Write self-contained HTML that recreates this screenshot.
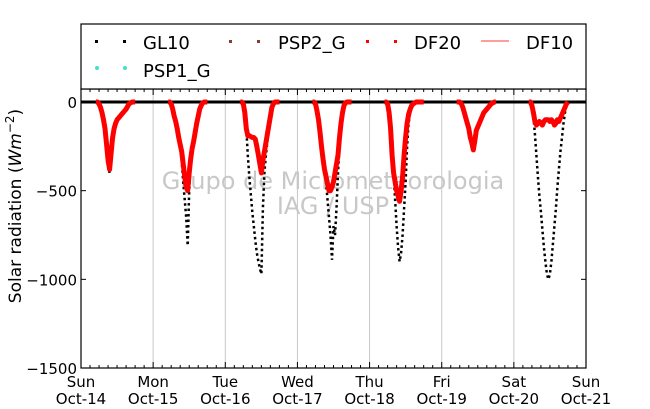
<!DOCTYPE html>
<html><head><meta charset="utf-8"><style>
body{margin:0;background:#fff;}
svg{display:block;font-family:"DejaVu Sans","Liberation Sans",sans-serif;}
</style></head><body>
<svg id="chart" width="650" height="409" viewBox="0 0 650 409">
<g id="grid"></g>
<g id="wm">
<text x="333" y="189" text-anchor="middle" font-size="24" fill="#c8c8c8">Grupo de Micrometeorologia</text>
<text x="333" y="214" text-anchor="middle" font-size="24" fill="#c8c8c8">IAG / USP</text>
</g>
<g id="series"></g>
<g id="axes"></g>
<g id="legend">
<rect x="81" y="24" width="505" height="65" fill="#fff" stroke="#000" stroke-width="1.2"/>
<g><rect x="95" y="40" width="3" height="3" fill="#000"/><rect x="123" y="40" width="3" height="3" fill="#000"/><text x="143" y="49" font-size="18">GL10</text></g>
<g><rect x="229" y="40" width="3" height="3" fill="#8b3a3a"/><rect x="257" y="40" width="3" height="3" fill="#8b3a3a"/><text x="278" y="49" font-size="18">PSP2_G</text></g>
<g><rect x="366" y="40" width="3" height="3" fill="#f00"/><rect x="394" y="40" width="3" height="3" fill="#f00"/><text x="414" y="49" font-size="18">DF20</text></g>
<g><line x1="481" y1="41" x2="509" y2="41" stroke="#ff6060" stroke-width="1.2"/><text x="526" y="49" font-size="18">DF10</text></g>
<g><circle cx="97" cy="68" r="2" fill="#40e0d0"/><circle cx="125" cy="68" r="2" fill="#40e0d0"/><text x="143" y="77" font-size="18">PSP1_G</text></g>
</g>
<text transform="translate(21,206) rotate(-90)" text-anchor="middle" font-size="17">Solar radiation (<tspan font-style="italic">Wm</tspan><tspan font-size="12" dy="-7">−2</tspan><tspan dy="7">)</tspan></text>
</svg>
<script>
const dayNames = ["Sun","Mon","Tue","Wed","Thu","Fri","Sat","Sun"];
const dayDates = ["Oct-14","Oct-15","Oct-16","Oct-17","Oct-18","Oct-19","Oct-20","Oct-21"];
const yTicks = [0,-500,-1000,-1500];
const yTickLabels = ["0","−500","−1000","−1500"];
const hours = [5,5.5,6,6.5,7,7.5,8,8.5,9,9.5,10,10.5,11,11.5,12,12.5,13,13.5,14,14.5,15,15.5,16,16.5,17,17.5,18];
const gl10 = [
[0,0,-10,-30,-60,-100,-150,-250,-350,-400,-300,-200,-150,-120,-100,-90,-80,-70,-60,-50,-40,-25,-10,-5,0,0,0],
[0,0,-10,-40,-80,-110,-150,-200,-260,-330,-450,-550,-650,-810,-500,-350,-280,-230,-170,-120,-80,-40,-20,-5,0,0,0],
[0,0,-10,-60,-150,-300,-420,-520,-620,-700,-780,-850,-900,-940,-970,-600,-400,-300,-220,-150,-80,-30,-10,0,0,0,0],
[0,0,-10,-50,-100,-170,-250,-320,-400,-450,-550,-650,-750,-890,-700,-750,-600,-400,-250,-150,-80,-30,-10,0,0,0,0],
[0,0,-10,-60,-150,-300,-400,-550,-700,-820,-900,-850,-750,-600,-450,-250,-120,-60,-30,-15,-5,0,0,0,0,0,0],
[0,0,0,-10,-30,-60,-90,-120,-150,-200,-230,-270,-220,-160,-140,-120,-100,-80,-60,-50,-40,-30,-20,-10,-5,0,0],
[0,0,-20,-80,-180,-300,-420,-530,-620,-720,-820,-900,-970,-1000,-970,-900,-800,-700,-600,-480,-380,-280,-200,-120,-60,-20,0]
];
const df20 = [
[0,0,-10,-30,-60,-100,-150,-240,-330,-380,-290,-200,-150,-120,-100,-90,-80,-70,-60,-50,-40,-25,-10,-5,0,0,0],
[0,0,-10,-40,-80,-110,-150,-200,-240,-280,-350,-420,-480,-500,-400,-320,-260,-220,-170,-120,-80,-40,-20,-5,0,0,0],
[0,0,-10,-60,-150,-190,-190,-195,-200,-200,-210,-250,-300,-350,-400,-330,-280,-230,-180,-130,-80,-30,-10,0,0,0,0],
[0,0,-10,-50,-100,-170,-250,-320,-380,-420,-460,-500,-500,-480,-450,-400,-350,-300,-200,-120,-60,-20,-5,0,0,0,0],
[0,0,-10,-60,-150,-300,-400,-450,-500,-530,-560,-500,-420,-300,-200,-120,-70,-40,-20,-10,-5,0,0,0,0,0,0],
[0,0,0,-10,-30,-60,-90,-120,-150,-200,-230,-270,-220,-160,-140,-120,-100,-80,-60,-50,-40,-30,-20,-10,-5,0,0],
[0,0,-20,-60,-110,-130,-120,-110,-120,-130,-110,-100,-100,-100,-110,-100,-110,-130,-120,-100,-110,-90,-70,-50,-30,-10,0]
];
const NS="http://www.w3.org/2000/svg";
const X0=81,X1=586,YT=89,YB=368,DAYS=7;
function xScale(day,h){return X0+(day+h/24)*(X1-X0)/DAYS;}
function yScale(v){return 102+(0-v)*(YB-102)/1500;}
function mk(tag,attrs,parent){const e=document.createElementNS(NS,tag);for(const k in attrs)e.setAttribute(k,attrs[k]);parent.appendChild(e);return e;}
const grid=document.getElementById('grid'),axes=document.getElementById('axes'),series=document.getElementById('series');
for(let d=1;d<DAYS;d++){const g=mk('line',{x1:xScale(d,0),x2:xScale(d,0),y1:YT,y2:YB,stroke:'#c8c8c8','stroke-width':1},grid);

}
const zl=mk('line',{x1:X0,x2:X1,y1:yScale(0),y2:yScale(0),stroke:'#000','stroke-width':3},series);


for(let d=0;d<DAYS;d++){
 const ptsG=hours.map((h,i)=>xScale(d,h).toFixed(1)+','+yScale(gl10[d][i]).toFixed(1)).join(' ');
 const ptsD=hours.map((h,i)=>xScale(d,h).toFixed(1)+','+yScale(df20[d][i]).toFixed(1)).join(' ');
 const g=mk('polyline',{points:ptsG,fill:'none',stroke:'#000','stroke-width':2.5,'stroke-dasharray':'2.5,3'},series);
 
 
 const r=mk('polyline',{points:ptsD,fill:'none',stroke:'#f00','stroke-width':5,'stroke-linejoin':'round'},series);
 
 
}
const frame=mk('rect',{x:X0,y:YT,width:X1-X0,height:YB-YT,fill:'none',stroke:'#000','stroke-width':1.2},axes);


yTicks.forEach((v,i)=>{const y=yScale(v);
 mk('line',{x1:X0,x2:X0+5,y1:y,y2:y,stroke:'#000'},axes);
 mk('line',{x1:X1,x2:X1-5,y1:y,y2:y,stroke:'#000'},axes);
 const t=mk('text',{x:77,y:y+6,'text-anchor':'end','font-size':15},axes);t.textContent=yTickLabels[i];
 
 });
for(let k=0;k<=DAYS*8;k++){const x=X0+k*(X1-X0)/(DAYS*8);const len=k%8===0?6:3;
 mk('line',{x1:x,x2:x,y1:YB,y2:YB-len,stroke:'#000'},axes);
 mk('line',{x1:x,x2:x,y1:YT,y2:YT+len,stroke:'#000'},axes);}
for(let d=0;d<=DAYS;d++){const x=xScale(d,0);
 const t1=mk('text',{x:x,y:387,'text-anchor':'middle','font-size':15},axes);t1.textContent=dayNames[d];
 
 
 const t2=mk('text',{x:x,y:404,'text-anchor':'middle','font-size':15},axes);t2.textContent=dayDates[d];
 
 }
</script>
</body></html>
